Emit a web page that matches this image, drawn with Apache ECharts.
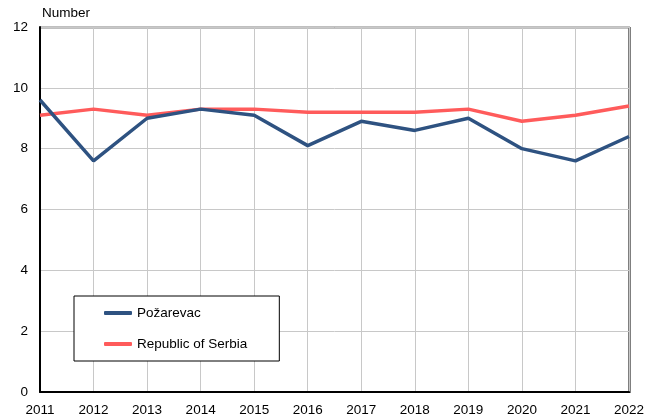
<!DOCTYPE html>
<html>
<head>
<meta charset="utf-8">
<script src="https://cdn.jsdelivr.net/npm/echarts@6/dist/echarts.min.js"></script>
<style>
  html, body { margin: 0; padding: 0; background: #fff; }
  #chart { width: 650px; height: 417px; }
</style>
</head>
<body>
<div id="chart"></div>
<script>
// 年份
var years = ["2011", "2012", "2013", "2014", "2015", "2016", "2017", "2018", "2019", "2020", "2021", "2022"];
// 数据
var pozarevac = [9.6, 7.6, 9.0, 9.3, 9.1, 8.1, 8.9, 8.6, 9.0, 8.0, 7.6, 8.4];
var serbia = [9.1, 9.3, 9.1, 9.3, 9.3, 9.2, 9.2, 9.2, 9.3, 8.9, 9.1, 9.4];

var myChart = echarts.init(document.getElementById("chart"));
var font = "Liberation Sans, Arial, sans-serif";

var option = {
  animation: false,
  textStyle: { fontFamily: font },
  color: ["#2e5281", "#ff5b5b"],
  grid: {
    left: 40,
    right: 21,
    top: 27,
    bottom: 24,
    show: true,
    borderColor: "#000",
    borderWidth: 0
  },
  legend: {
    orient: "vertical",
    left: 74,
    top: 296,
    padding: [10, 32, 10, 30],
    itemGap: 17,
    itemWidth: 28,
    itemHeight: 4,
    borderColor: "#000",
    borderWidth: 1,
    backgroundColor: "#fff",
    icon: "roundRect",
    textStyle: { color: "#000", fontSize: 13.5, fontFamily: font },
    data: ["Požarevac", "Republic of Serbia"]
  },
  graphic: [
    {
      type: "text",
      left: 42,
      top: 6,
      style: { text: "Number", fill: "#000", font: "13.5px " + font }
    },
    {
      // 右边框
      type: "line",
      shape: { x1: 629.5, y1: 27, x2: 629.5, y2: 393 },
      style: { stroke: "#000", lineWidth: 2 }
    },
    {
      // 上边框
      type: "line",
      shape: { x1: 40, y1: 27.5, x2: 630, y2: 27.5 },
      style: { stroke: "#808080", lineWidth: 2 }
    }
  ],
  xAxis: {
    type: "category",
    boundaryGap: false,
    data: years,
    axisTick: { show: false },
    axisLine: { lineStyle: { color: "#000", width: 2 } },
    axisLabel: { color: "#000", fontSize: 13.5, margin: 11, interval: 0 },
    splitLine: { show: true, lineStyle: { color: "#c8c8c8", width: 1 } }
  },
  yAxis: {
    type: "value",
    min: 0,
    max: 12,
    interval: 2,
    axisTick: { show: false },
    axisLine: { show: true, lineStyle: { color: "#000", width: 2 } },
    axisLabel: { color: "#000", fontSize: 13.5, margin: 12 },
    splitLine: { lineStyle: { color: "#c8c8c8", width: 1 } }
  },
  series: [
    {
      name: "Požarevac",
      type: "line",
      data: pozarevac,
      symbol: "none",
      lineStyle: { width: 3.5 },
      z: 3
    },
    {
      name: "Republic of Serbia",
      type: "line",
      data: serbia,
      symbol: "none",
      lineStyle: { width: 3.5 },
      z: 2
    }
  ]
};

myChart.setOption(option);
window.addEventListener("resize", function () {
  myChart.resize();
});
</script>
</body>
</html>
